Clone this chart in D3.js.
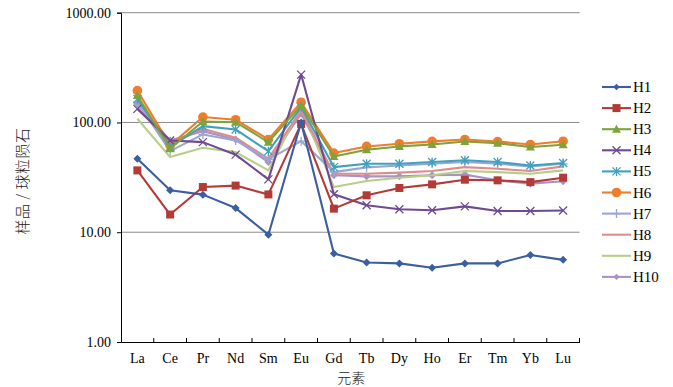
<!DOCTYPE html>
<html><head><meta charset="utf-8">
<script src="https://cdn.jsdelivr.net/npm/d3@7"></script>
<style>body{margin:0;background:#fff}svg{display:block}</style>
</head><body>
<svg id="c" width="673" height="387"></svg>
<script>
const categories = ["La","Ce","Pr","Nd","Sm","Eu","Gd","Tb","Dy","Ho","Er","Tm","Yb","Lu"];
const seriesNames = ["H1","H2","H3","H4","H5","H6","H7","H8","H9","H10"];
const H1 = [46.8,24.1,22.0,16.6,9.5,100,6.4,5.3,5.2,4.75,5.2,5.2,6.2,5.6];
const H2 = [36.6,14.5,25.8,26.6,22.1,97,16.4,21.7,25.3,27.3,30.1,29.7,28.6,31.4];
const H3 = [176,57.6,102,100.6,66.2,143,49,56.5,60.5,63,67,64.8,59.7,62.7];
const H4 = [133,68.6,66.2,50.9,30.3,273,22.2,17.6,16.2,15.85,17.2,15.6,15.6,15.8];
const H5 = [164,60,92.6,86.3,54.8,138,39.2,42.1,42.1,43.6,45.2,43.6,40.6,42.7];
const H6 = [195,61.8,112,106,70,153,52.6,60.5,64,67.2,70,67,63,67.5];
const H7 = [153,54.8,77.8,68.6,46.1,67.6,35.3,39,40.6,42,43.6,42,39.8,42];
const H8 = [138,64,87.6,72.6,46.8,128,34.1,34.1,34.9,36.1,39.2,37.9,36.1,39.8];
const H9 = [108,48.4,58.9,53.7,36.6,138,25.8,29.3,31.4,33,36.1,35.3,34.1,36.6];
const H10 = [148,68.6,83.4,70,43.6,120,33,32.3,32.3,33,33.5,29.7,27.7,29.1];
const yTicks = [1,10,100,1000];
const seriesValues = [H1,H2,H3,H4,H5,H6,H7,H8,H9,H10];

const colors = ["#3A5E9E","#B23B37","#7FA33A","#6E4A92","#3FA2BC","#EE7D2C","#9AA6D4","#DE8C8A","#B6CE86","#A993C4"];
const markers = ["diamond","square","triangle","x","asterisk","circle","plus","none","none","diamond"];

const svg = d3.select("#c");
const L=121,R=579.5,T=12.7,B=342;
const x = d3.scaleBand().domain(categories).range([L,R]);
const y = d3.scaleLog().domain([1,1000]).range([B,T]);
const serif = "'Liberation Serif','Times New Roman',serif";

// grid
svg.append("g").selectAll("line").data(yTicks.slice(1)).join("line")
  .attr("x1",L).attr("x2",R).attr("y1",d=>y(d)).attr("y2",d=>y(d))
  .attr("stroke","#8c8c8c").attr("stroke-width",1);

// y axis
const ya = svg.append("g").attr("transform",`translate(${L},0)`)
  .call(d3.axisLeft(y).tickValues(yTicks).tickFormat(d3.format(".2f")).tickSize(4).tickPadding(6));
ya.select(".domain").attr("stroke","#000");
ya.selectAll("text").attr("font-family",serif).attr("font-size",14).attr("fill","#000");

// x axis
const xa = svg.append("g").attr("transform",`translate(0,${B})`)
  .call(d3.axisBottom(x).tickSize(0).tickPadding(11));
xa.select(".domain").attr("stroke","#000");
xa.selectAll("text").attr("font-family",serif).attr("font-size",14).attr("fill","#000");
svg.append("g").selectAll("line").data(categories).join("line")
  .attr("x1",d=>x(d)+x.bandwidth()).attr("x2",d=>x(d)+x.bandwidth())
  .attr("y1",B).attr("y2",B-4).attr("stroke","#000");

// titles
svg.append("text").attr("x",(L+R)/2+1).attr("y",383).attr("text-anchor","middle")
  .attr("font-family","'Noto Sans CJK SC'").attr("font-size",14).attr("font-weight",300).attr("fill","#222").text("元素");
svg.append("text").attr("transform","translate(28,181) rotate(-90)").attr("text-anchor","middle")
  .attr("font-family","'Noto Sans CJK SC'").attr("font-size",15).attr("font-weight",300).attr("fill","#222")
  .attr("letter-spacing",0.5).text("样品 / 球粒陨石");

const cx = d=>x(d)+x.bandwidth()/2;
function drawMarker(g,type,color,px,py,s){
  s = s||1;
  if(type==="diamond"){g.append("path").attr("d",`M${px},${py-4*s}L${px+4*s},${py}L${px},${py+4*s}L${px-4*s},${py}Z`).attr("fill",color);}
  else if(type==="square"){g.append("rect").attr("x",px-4).attr("y",py-4).attr("width",8).attr("height",8).attr("fill",color);}
  else if(type==="triangle"){g.append("path").attr("d",`M${px},${py-4.5}L${px+4.5},${py+3.5}L${px-4.5},${py+3.5}Z`).attr("fill",color);}
  else if(type==="circle"){g.append("circle").attr("cx",px).attr("cy",py).attr("r",4.8).attr("fill",color);}
  else if(type==="x"){g.append("path").attr("d",`M${px-4},${py-4}L${px+4},${py+4}M${px-4},${py+4}L${px+4},${py-4}`).attr("stroke",color).attr("stroke-width",1.3);}
  else if(type==="asterisk"){g.append("path").attr("d",`M${px-4},${py-4}L${px+4},${py+4}M${px-4},${py+4}L${px+4},${py-4}M${px},${py-4.5}L${px},${py+4.5}`).attr("stroke",color).attr("stroke-width",1.3);}
  else if(type==="plus"){g.append("path").attr("d",`M${px-4.5},${py}L${px+4.5},${py}M${px},${py-4.5}L${px},${py+4.5}`).attr("stroke",color).attr("stroke-width",1.3);}
}

const line = d3.line().x((d,i)=>cx(categories[i])).y(d=>y(d));
for(let k=seriesValues.length-1;k>=0;k--){
  const g = svg.append("g");
  g.append("path").attr("d",line(seriesValues[k])).attr("fill","none")
    .attr("stroke",colors[k]).attr("stroke-width",2.1).attr("stroke-linejoin","round");
  seriesValues[k].forEach((v,i)=>drawMarker(g,markers[k],colors[k],cx(categories[i]),y(v),1));
}

// legend
const lg = svg.append("g");
seriesNames.forEach((n,i)=>{
  const ly = 87 + i*21.1;
  lg.append("line").attr("x1",602).attr("x2",631).attr("y1",ly).attr("y2",ly).attr("stroke",colors[i]).attr("stroke-width",2.1);
  drawMarker(lg,markers[i],colors[i],616.5,ly, 0.8);
  lg.append("text").attr("x",633).attr("y",ly+5).attr("font-family",serif).attr("font-size",15).attr("fill","#000").text(n);
});
</script>
</body></html>
